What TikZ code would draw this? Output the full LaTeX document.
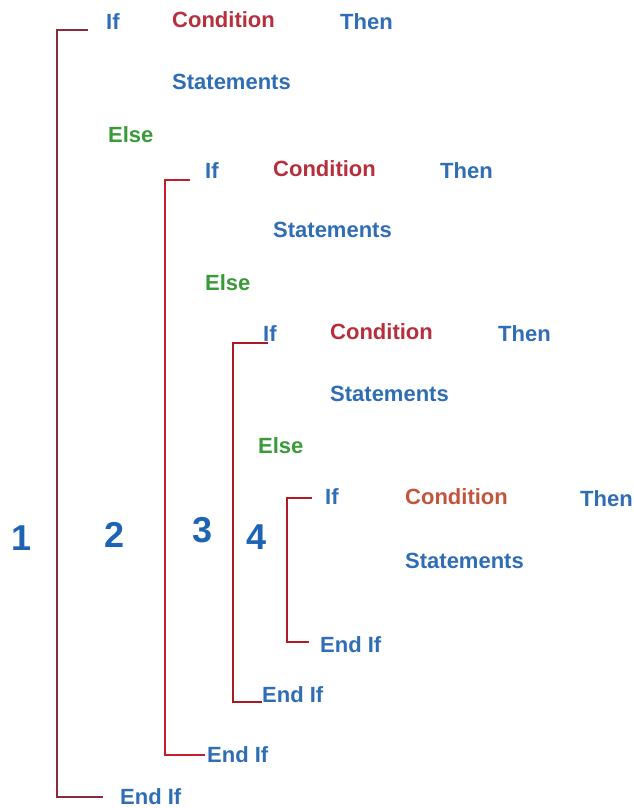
\documentclass[tikz,border=0pt]{standalone}
\usepackage{fontspec}
\setmainfont{Liberation Sans}
\usepackage{xcolor}
\usepackage{tikz}
\usetikzlibrary{positioning}
\definecolor{KwBlue}{HTML}{2F6DB5}
\definecolor{CondRed}{HTML}{B5303C}
\definecolor{CondOrange}{HTML}{C2553C}
\definecolor{ElseGreen}{HTML}{3A9A3A}
\definecolor{NumBlue}{HTML}{1E64B4}
\definecolor{BrMaroon}{HTML}{8A2A3A}
\definecolor{BrRed}{HTML}{C41E2A}
\begin{document}
\begin{tikzpicture}[x=1pt, y=-1pt, every node/.style={font=\fontsize{22}{24}\selectfont\bfseries, inner sep=0pt, anchor=west}, kw/.style={text=KwBlue}, cond/.style={text=CondRed}, els/.style={text=ElseGreen}, num/.style={anchor=center, text=NumBlue, font=\fontsize{36}{38}\selectfont\bfseries}, bk/.style={line width=2.8pt, line cap=butt}]
\useasboundingbox (0,0) rectangle (634,808);
% level 1
\node[kw] (if1) at (106,22) {If};
\node[cond] (cd1) at (172,20) {Condition};
\node[kw] (th1) at (340,22) {Then};
\node[kw] (st1) at (172,82) {Statements};
\node[els] (el1) at (108,135) {Else};
\node[kw] (end1) at (120,797) {End If};
% level 2
\node[kw] (if2) at (205,171) {If};
\node[cond] (cd2) at (273,169) {Condition};
\node[kw] (th2) at (440,171) {Then};
\node[kw] (st2) at (273,230) {Statements};
\node[els] (el2) at (205,283) {Else};
\node[kw] (end2) at (207,755) {End If};
% level 3
\node[kw] (if3) at (263,334) {If};
\node[cond] (cd3) at (330,332) {Condition};
\node[kw] (th3) at (498,334) {Then};
\node[kw] (st3) at (330,394) {Statements};
\node[els] (el3) at (258,446) {Else};
\node[kw] (end3) at (262,695) {End If};
% level 4
\node[kw] (if4) at (325,497) {If};
\node[cond,text=CondOrange] (cd4) at (405,497) {Condition};
\node[kw] (th4) at (580,499) {Then};
\node[kw] (st4) at (405,561) {Statements};
\node[kw] (end4) at (320,645) {End If};
% numbers
\node[num] (n1) at (22,538) {1};
\node[num] (n2) at (115,535) {2};
\node[num] (n3) at (203,530) {3};
\node[num] (n4) at (257,537) {4};
% brackets
\coordinate (t1) at (88,30); \coordinate (b1) at (103,797);
\coordinate (t2) at (190,180); \coordinate (b2) at (205,755);
\coordinate (t3) at (268,343); \coordinate (b3) at (262,702);
\coordinate (t4) at (312,498); \coordinate (b4) at (309,642);
\draw[bk,BrMaroon] (t1) -- ++(-31,0) |- (b1);
\draw[bk,BrRed] (t2) -- ++(-25,0) |- (b2);
\draw[bk,BrRed!85!black] (t3) -- ++(-35,0) |- (b3);
\draw[bk,BrRed!90!black] (t4) -- ++(-25,0) |- (b4);
\end{tikzpicture}
\end{document}
